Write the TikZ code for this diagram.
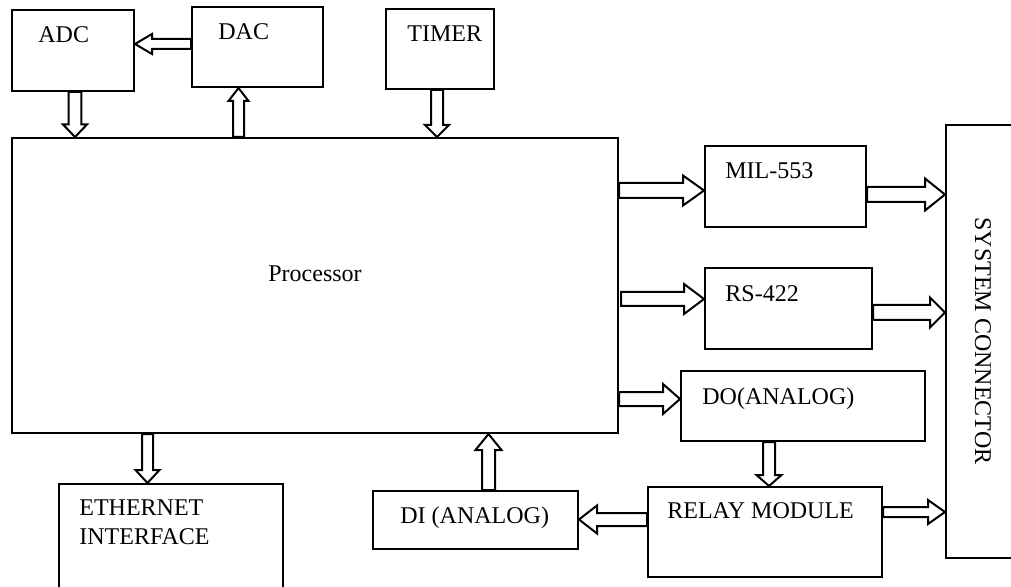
\documentclass[tikz,border=0pt]{standalone}
\usepackage{fontspec}
\setmainfont{Liberation Serif}
\usetikzlibrary{calc, positioning}

\begin{document}
\begin{tikzpicture}[
        x=0.5pt, y=-0.5pt,
        block/.style={rectangle, draw, line width=1pt, anchor=north west, inner sep=0pt},
        txt/.style={anchor=base west, inner sep=0pt, font=\fontsize{12}{14}\selectfont},
        bus/.style n args={3}{draw, line width=1pt, fill=white, to path={
            let \p1=(\tikztostart), \p2=(\tikztotarget), \p3=($(\p2)!#3!(\p1)$) in
            ($(\p1)!#1!90:(\p2)$) -- ($(\p3)!#1!-90:(\p1)$) -- ($(\p3)!#2!-90:(\p1)$) -- (\p2)
            -- ($(\p3)!#2!90:(\p1)$) -- ($(\p3)!#1!90:(\p1)$) -- ($(\p1)!#1!-90:(\p2)$) -- cycle}}
    ]
        \useasboundingbox (0,0) rectangle (1011,587);

        % Blocks
        \node[block, minimum width=61pt, minimum height=40.5pt] (adc) at (11,9) {};
        \node[block, minimum width=65.5pt, minimum height=40pt] (dac) at (191,6) {};
        \node[block, minimum width=54pt, minimum height=40pt] (timer) at (385,8) {};
        \node[block, minimum width=303pt, minimum height=147.5pt] (proc) at (11,137) {};
        \node[block, minimum width=80.5pt, minimum height=40.5pt] (mil) at (704,145) {};
        \node[block, minimum width=83.5pt, minimum height=40.5pt] (rs) at (704,267) {};
        \node[block, minimum width=122pt, minimum height=35pt] (dout) at (680,370) {};
        \node[block, minimum width=117pt, minimum height=45pt] (relay) at (647,486) {};
        \node[block, minimum width=102.5pt, minimum height=29pt] (din) at (372,490) {};
        \node[block, minimum width=112pt, minimum height=60pt] (eth) at (58,483) {};
        \node[block, minimum width=45pt, minimum height=216.5pt] (conn) at (945,124) {};

        % Texts
        \node[txt] (adct) at ([shift={(27,34)}]adc.north west) {ADC};
        \node[txt] (dact) at ([shift={(27,34)}]dac.north west) {DAC};
        \node[txt] (timert) at ([shift={(22,34)}]timer.north west) {TIMER};
        \node[txt] (proct) at ([shift={(257,145)}]proc.north west) {Processor};
        \node[txt] (milt) at ([shift={(21,34)}]mil.north west) {MIL-553};
        \node[txt] (rst) at ([shift={(21,35)}]rs.north west) {RS-422};
        \node[txt] (doutt) at ([shift={(22,34)}]dout.north west) {DO(ANALOG)};
        \node[txt] (relayt) at ([shift={(20,32)}]relay.north west) {RELAY MODULE};
        \node[txt] (dint) at ([shift={(28,33)}]din.north west) {DI (ANALOG)};
        \node[txt] (etht) at ([shift={(21,32)}]eth.north west) {ETHERNET};
        \node[txt] (etht2) at ([shift={(21,61)}]eth.north west) {INTERFACE};
        \node[txt, anchor=center, rotate=-90] (connt) at ([shift={(38,217)}]conn.north west) {SYSTEM CONNECTOR};

        % Buses
        \draw[bus={2.5pt}{5pt}{8.5pt}] (dac.west |- 0,44) to (adc.east |- 0,44);
        \draw[bus={3.2pt}{6pt}{6.25pt}] (75,0 |- adc.south) to (75,0 |- proc.north);
        \draw[bus={2.75pt}{5pt}{6.5pt}] (238.5,0 |- proc.north) to (238.5,0 |- dac.south);
        \draw[bus={3pt}{6pt}{6pt}] (437,0 |- timer.south) to (437,0 |- proc.north);
        \draw[bus={3.75pt}{7.5pt}{10.5pt}] (proc.east |- 0,190.5) to (mil.west |- 0,190.5);
        \draw[bus={3.75pt}{8pt}{10pt}] (mil.east |- 0,194.5) to (conn.west |- 0,194.5);
        \draw[bus={3.5pt}{7.5pt}{10pt}] (621,299) to (rs.west |- 0,299);
        \draw[bus={3.75pt}{7.5pt}{7.5pt}] (rs.east |- 0,312.5) to (conn.west |- 0,312.5);
        \draw[bus={3.5pt}{7.5pt}{8.5pt}] (proc.east |- 0,399) to (dout.west |- 0,399);
        \draw[bus={3pt}{6.25pt}{5.5pt}] (769,0 |- dout.south) to (769,0 |- relay.north);
        \draw[bus={2.5pt}{6pt}{8.5pt}] (relay.east |- 0,512) to (conn.west |- 0,512);
        \draw[bus={3.25pt}{7pt}{9pt}] (relay.west |- 0,519.5) to (din.east |- 0,519.5);
        \draw[bus={3.25pt}{6.5pt}{8pt}] (488.5,0 |- din.north) to (488.5,0 |- proc.south);
        \draw[bus={2.75pt}{6pt}{6.5pt}] (147.5,0 |- proc.south) to (147.5,0 |- eth.north);
\end{tikzpicture}
\end{document}
